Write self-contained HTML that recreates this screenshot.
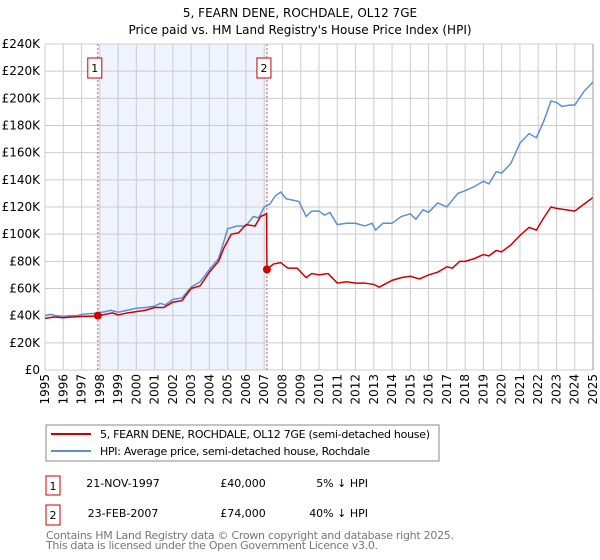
<!DOCTYPE html>
<html><head><meta charset="utf-8"><style>
body{margin:0;background:#fff;font-family:"DejaVu Sans","Liberation Sans",sans-serif;}
#wrap{position:relative;width:600px;height:560px;overflow:hidden;}
</style></head><body>
<div id="wrap">
<svg id="chart" width="600" height="560" xmlns="http://www.w3.org/2000/svg" font-family="DejaVu Sans, Liberation Sans, sans-serif">
<text x="300" y="17" text-anchor="middle" font-size="12">5, FEARN DENE, ROCHDALE, OL12 7GE</text>
<text x="300" y="34" text-anchor="middle" font-size="12">Price paid vs. HM Land Registry's House Price Index (HPI)</text>
<g id="grid"></g><g id="marks"></g><g id="axes"></g>
<g>
<rect x="46" y="425" width="393" height="36" fill="#fff" stroke="#888"/>
<line x1="51" y1="434" x2="91" y2="434" stroke="#cc0000" stroke-width="2"/>
<text x="100" y="438" font-size="11" textLength="330">5, FEARN DENE, ROCHDALE, OL12 7GE (semi-detached house)</text>
<line x1="51" y1="451" x2="91" y2="451" stroke="#5b8fd4" stroke-width="2"/>
<text x="100" y="455" font-size="11" textLength="270">HPI: Average price, semi-detached house, Rochdale</text>
</g>
<g font-size="11">
<rect x="46" y="476" width="14" height="19" fill="#fff" stroke="#cc0000"/><text x="53" y="490" text-anchor="middle">1</text>
<text x="123" y="487" text-anchor="middle">21-NOV-1997</text><text x="243" y="487" text-anchor="middle">£40,000</text><text x="368" y="487" text-anchor="end">5% ↓ HPI</text>
<rect x="46" y="505" width="14" height="20" fill="#fff" stroke="#cc0000"/><text x="53" y="519" text-anchor="middle">2</text>
<text x="123" y="517" text-anchor="middle">23-FEB-2007</text><text x="243" y="517" text-anchor="middle">£74,000</text><text x="368" y="517" text-anchor="end">40% ↓ HPI</text>
</g>
<text x="46" y="539" font-size="11" fill="#777" textLength="408">Contains HM Land Registry data © Crown copyright and database right 2025.</text>
<text x="46" y="549" font-size="11" fill="#777" textLength="332">This data is licensed under the Open Government Licence v3.0.</text>
</svg>
</div>
<script>
const yearTicks=[1995,1996,1997,1998,1999,2000,2001,2002,2003,2004,2005,2006,2007,2008,2009,2010,2011,2012,2013,2014,2015,2016,2017,2018,2019,2020,2021,2022,2023,2024,2025];
const valueTicks=[0,20,40,60,80,100,120,140,160,180,200,220,240];
const hpiYears=[1995,1995.3,1995.6,1996,1996.4,1996.8,1997,1997.5,1997.9,1998.3,1998.6,1999,1999.5,2000,2000.5,2001,2001.3,2001.6,2002,2002.5,2003,2003.5,2004,2004.5,2004.8,2005,2005.5,2006,2006.4,2006.7,2007,2007.3,2007.6,2007.8,2007.9,2008.2,2008.6,2008.9,2009.3,2009.6,2010,2010.3,2010.6,2011,2011.5,2012,2012.5,2012.9,2013.1,2013.5,2014,2014.5,2015,2015.3,2015.7,2016,2016.5,2017,2017.3,2017.6,2018,2018.5,2019,2019.3,2019.7,2020,2020.5,2021,2021.5,2021.9,2022.3,2022.7,2023,2023.3,2023.7,2024,2024.5,2025];
const hpiValues=[40,41,40,39.5,40,40,41,41.5,42,43,44,42.5,44,45.5,46,47,49,48,52,53,61,65,74,82,95,104,106,106,113,112,120,122,128,130,131,126,125,124,113,117,117,114,116,107,108,108,106,108,103,108,108,113,115,111,118,116,123,120,125,130,132,135,139,137,146,145,152,167,174,171,183,198,197,194,195,195,205,212];
const ppYears=[1995,1995.5,1996,1996.5,1997,1997.5,1997.89,1998.3,1998.7,1999,1999.5,2000,2000.5,2001,2001.5,2002,2002.5,2003,2003.5,2004,2004.5,2004.8,2005.2,2005.6,2006,2006.5,2006.8,2007.13,2007.15,2007.5,2007.9,2008.3,2008.8,2009.3,2009.6,2010,2010.5,2011,2011.5,2012,2012.5,2013,2013.3,2014,2014.5,2015,2015.5,2016,2016.5,2017,2017.3,2017.7,2018,2018.5,2019,2019.3,2019.7,2020,2020.5,2021,2021.5,2021.9,2022.3,2022.7,2023,2023.5,2024,2024.5,2025];
const ppValues=[38,39,38.5,39,39.5,39.5,40,41,42,40.5,42,43,44,46,46,50,51,60,62,72,80,90,100,101,107,106,113,115,74,78,79,75,75,68,71,70,71,64,65,64,64,63,61,66,68,69,67,70,72,76,75,80,80,82,85,84,88,87,92,99,105,103,112,120,119,118,117,122,127];
const sales=[{y:1997.89,v:40,l:"1"},{y:2007.15,v:74,l:"2"}];
const L=45,R=593,T=44,B=370,NS="http://www.w3.org/2000/svg";
const xs=y=>L+(y-1995)/30*(R-L), ys=v=>B-v/240*(B-T);
function mk(p,t,a){const e=document.createElementNS(NS,t);for(const k in a)e.setAttribute(k,a[k]);p.appendChild(e);return e;}
const g=document.getElementById('grid'),m=document.getElementById('marks'),ax=document.getElementById('axes');
const sh=mk(g,'rect',{x:xs(sales[0].y),y:T,width:xs(sales[1].y)-xs(sales[0].y),height:B-T,fill:'#eef3fd'});


yearTicks.forEach(y=>{mk(g,'line',{x1:xs(y),x2:xs(y),y1:T,y2:B,stroke:'#ccc'});
 const t=mk(ax,'text',{x:0,y:0,'font-size':12,'text-anchor':'end',transform:`translate(${xs(y)+4},374) rotate(-90)`});t.textContent=y;
 
 });
valueTicks.forEach(v=>{mk(g,'line',{x1:L,x2:R,y1:ys(v),y2:ys(v),stroke:'#ccc'});
 const t=mk(ax,'text',{x:L-5,y:ys(v)+4,'font-size':12,'text-anchor':'end'});t.textContent=v===0?'£0':'£'+v+'K';
 
 });
sales.forEach(s=>{const ln=mk(g,'line',{x1:xs(s.y),x2:xs(s.y),y1:T,y2:B,stroke:'#e05050','stroke-dasharray':'2,2'});
 
 
 mk(m,'rect',{x:xs(s.y)-10,y:58,width:14,height:20,fill:'#fff',stroke:'#cc0000'});
 const t=mk(m,'text',{x:xs(s.y)-3,y:72,'font-size':11,'text-anchor':'middle'});t.textContent=s.l;
 
 });
const hp=mk(m,'path',{d:hpiYears.map((y,i)=>(i?'L':'M')+xs(y)+','+ys(hpiValues[i])).join(''),fill:'none',stroke:'#5b8fd4','stroke-width':1.5});


const pp=mk(m,'path',{d:ppYears.map((y,i)=>(i?'L':'M')+xs(y)+','+ys(ppValues[i])).join(''),fill:'none',stroke:'#cc0000','stroke-width':1.5});


sales.forEach(s=>{const c=mk(m,'circle',{cx:xs(s.y),cy:ys(s.v),r:4,fill:'#cc0000'});
 
 });
mk(ax,'line',{x1:R,x2:R,y1:T,y2:B,stroke:'#999'});
</script>
</body></html>
